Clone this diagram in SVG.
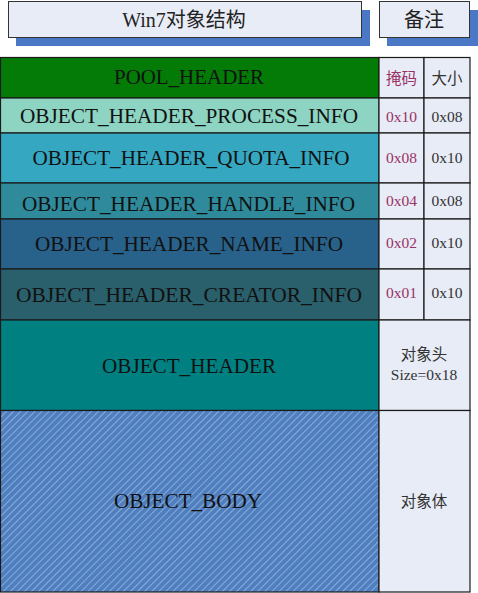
<svg xmlns="http://www.w3.org/2000/svg" width="478" height="593" viewBox="0 0 478 593">
<style>
  .box{fill:#e8ecf6;stroke:#333;stroke-width:1}
  .shadow{fill:#4a78c4}
  .cell{stroke:#1a1a1a;stroke-width:1.2}
  .note{fill:#e8ecf6;stroke:#1a1a1a;stroke-width:1.2}
  text{font-family:'Liberation Serif','Times New Roman','DejaVu Serif','Noto Sans CJK SC',serif;text-anchor:middle}
  .lbl{font-size:21px;fill:#111}
  .ttl{font-size:20px;fill:#222}
  .mask{font-size:15.5px;fill:#993366}
  .size{font-size:15.5px;fill:#333}
</style>
<defs>
  <pattern id="hatch" width="5" height="5" patternUnits="userSpaceOnUse" patternTransform="rotate(45)">
    <rect width="5" height="5" fill="#4f7fbf"/>
    <line x1="0" y1="0" x2="0" y2="5" stroke="#a9c3ea" stroke-width="1.3"/>
  </pattern>
</defs>
<rect width="478" height="593" fill="#ffffff"/>

<g id="title">
  <rect class="shadow" x="16" y="10" width="354" height="36"/>
  <rect class="box" x="8.5" y="1.5" width="353" height="36"/>
  <text class="ttl" x="184" y="27">Win7对象结构</text>
</g>
<g id="note-title">
  <rect class="shadow" x="387" y="10" width="91" height="36"/>
  <rect class="box" x="379.5" y="1.5" width="90" height="36"/>
  <text class="ttl" x="424" y="27">备注</text>
</g>

<g id="pool-header">
  <rect class="cell" x="0.5" y="57.5" width="378.5" height="40.5" fill="#037b06"/>
  <text class="lbl" x="189" y="84" textLength="150" lengthAdjust="spacingAndGlyphs">POOL_HEADER</text>
  <rect class="note" x="379" y="57.5" width="45" height="40.5"/>
  <rect class="note" x="424" y="57.5" width="46" height="40.5"/>
  <text class="mask" x="401.5" y="84">掩码</text>
  <text class="size" x="447" y="84">大小</text>
</g>
<g id="process-info">
  <rect class="cell" x="0.5" y="98" width="378.5" height="35" fill="#8dd4c2"/>
  <text class="lbl" x="189" y="123" textLength="338" lengthAdjust="spacingAndGlyphs">OBJECT_HEADER_PROCESS_INFO</text>
  <rect class="note" x="379" y="98" width="45" height="35"/>
  <rect class="note" x="424" y="98" width="46" height="35"/>
  <text class="mask" x="401.5" y="122">0x10</text>
  <text class="size" x="447" y="122">0x08</text>
</g>
<g id="quota-info">
  <rect class="cell" x="0.5" y="133" width="378.5" height="50" fill="#36a7c1"/>
  <text class="lbl" x="191" y="165" textLength="317" lengthAdjust="spacingAndGlyphs">OBJECT_HEADER_QUOTA_INFO</text>
  <rect class="note" x="379" y="133" width="45" height="50"/>
  <rect class="note" x="424" y="133" width="46" height="50"/>
  <text class="mask" x="401.5" y="163">0x08</text>
  <text class="size" x="447" y="163">0x10</text>
</g>
<g id="handle-info">
  <rect class="cell" x="0.5" y="183" width="378.5" height="36" fill="#2f8b9c"/>
  <text class="lbl" x="188.5" y="211" textLength="333" lengthAdjust="spacingAndGlyphs">OBJECT_HEADER_HANDLE_INFO</text>
  <rect class="note" x="379" y="183" width="45" height="36"/>
  <rect class="note" x="424" y="183" width="46" height="36"/>
  <text class="mask" x="401.5" y="206">0x04</text>
  <text class="size" x="447" y="206">0x08</text>
</g>
<g id="name-info">
  <rect class="cell" x="0.5" y="219" width="378.5" height="50" fill="#286189"/>
  <text class="lbl" x="189" y="251" textLength="308" lengthAdjust="spacingAndGlyphs">OBJECT_HEADER_NAME_INFO</text>
  <rect class="note" x="379" y="219" width="45" height="50"/>
  <rect class="note" x="424" y="219" width="46" height="50"/>
  <text class="mask" x="401.5" y="248">0x02</text>
  <text class="size" x="447" y="248">0x10</text>
</g>
<g id="creator-info">
  <rect class="cell" x="0.5" y="269" width="378.5" height="51" fill="#2a5f6c"/>
  <text class="lbl" x="189" y="302" textLength="346" lengthAdjust="spacingAndGlyphs">OBJECT_HEADER_CREATOR_INFO</text>
  <rect class="note" x="379" y="269" width="45" height="51"/>
  <rect class="note" x="424" y="269" width="46" height="51"/>
  <text class="mask" x="401.5" y="298">0x01</text>
  <text class="size" x="447" y="298">0x10</text>
</g>
<g id="object-header">
  <rect class="cell" x="0.5" y="320" width="378.5" height="90.5" fill="#008080"/>
  <text class="lbl" x="189" y="373" textLength="174" lengthAdjust="spacingAndGlyphs">OBJECT_HEADER</text>
  <rect class="note" x="379" y="320" width="91" height="90.5"/>
  <text class="size" x="424" y="360">对象头</text>
  <text class="size" x="424" y="380">Size=0x18</text>
</g>
<g id="object-body">
  <rect class="cell" x="0.5" y="410.5" width="378.5" height="181.5" fill="url(#hatch)"/>
  <text class="lbl" x="188" y="508" textLength="148" lengthAdjust="spacingAndGlyphs">OBJECT_BODY</text>
  <rect class="note" x="379" y="410.5" width="91" height="181.5"/>
  <text class="size" x="424" y="507">对象体</text>
</g>
</svg>
